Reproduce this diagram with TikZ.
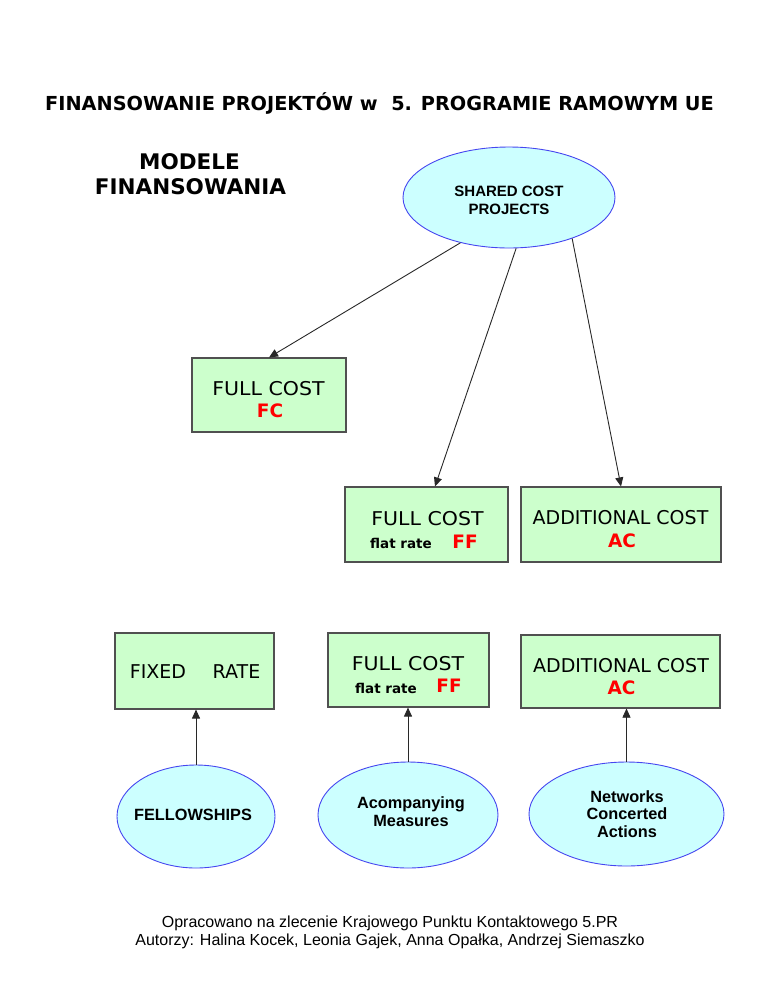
\documentclass[tikz,border=0pt]{standalone}
\usepackage{fontspec}
\setmainfont{DejaVu Sans}
\newfontfamily\arialf{Liberation Sans}
\usetikzlibrary{shapes.geometric,calc,arrows.meta}
\definecolor{ellfill}{RGB}{204,255,255}
\definecolor{elldraw}{RGB}{70,70,240}
\definecolor{boxfill}{RGB}{204,255,204}
\definecolor{boxdraw}{RGB}{80,80,80}
\definecolor{redtxt}{RGB}{255,0,0}
\definecolor{conncol}{RGB}{40,40,40}
\tikzset{
  ell/.style={ellipse,draw=elldraw,fill=ellfill,line width=0.9pt,inner sep=0pt},
  cbox/.style={rectangle,draw=boxdraw,fill=boxfill,line width=1.1pt,inner sep=0pt},
  txt/.style={anchor=base,inner sep=0pt},
  boxtxt/.style={txt,font=\fontsize{19}{22}\selectfont},
  redcode/.style={txt,text=redtxt,font=\fontsize{18.5}{22}\selectfont\bfseries},
  flat/.style={txt,font=\fontsize{13.5}{16}\selectfont\bfseries},
  elltxt/.style={txt,font=\arialf\fontsize{15}{18}\selectfont\bfseries},
  elltxtb/.style={txt,font=\arialf\fontsize{16.3}{18}\selectfont\bfseries},
  foottxt/.style={txt,font=\arialf\fontsize{16}{18}\selectfont},
  conn/.style={draw=conncol,line width=0.9pt,-{Triangle[length=9pt,width=8pt]}}
}
\newcommand{\wide}[1]{\scalebox{1.08}[1]{#1}}
\begin{document}
\begin{tikzpicture}[x=1pt,y=-1pt]
\fill[white] (0,0) rectangle (768,994);
\useasboundingbox (0,0) rectangle (768,994);

% title
\node[txt,font=\fontsize{19.3}{24}\selectfont\bfseries] (title) at (379.5,110) {FINANSOWANIE PROJEKTÓW w~~5. PROGRAMIE RAMOWYM UE};
\node[txt,font=\fontsize{21.5}{25}\selectfont\bfseries] (mod1) at (189.5,169) {MODELE};
\node[txt,font=\fontsize{21.5}{25}\selectfont\bfseries] (mod2) at (190.5,194) {FINANSOWANIA};

% top ellipse
\node[ell,minimum width=212pt,minimum height=101pt] (top) at (509,197.5) {};
\node[elltxt] (topt1) at (509,196) {SHARED COST};
\node[elltxt] (topt2) at (509,214) {PROJECTS};

% boxes
\node[cbox,minimum width=154pt,minimum height=74pt] (fc) at (269,395) {};
\node[boxtxt] (fct1) at (268.5,395.5) {\wide{FULL COST}};
\node[redcode] (fct2) at (270,417.5) {FC};

\node[cbox,minimum width=163pt,minimum height=75pt] (ff1) at (426.5,524.5) {};
\node[boxtxt] (ff1t1) at (427.5,525.5) {\wide{FULL COST}};
\node[flat] (ff1t2) at (401,548) {flat rate};
\node[redcode] (ff1t3) at (465,548.5) {FF};

\node[cbox,minimum width=200pt,minimum height=75pt] (ac1) at (621,524.5) {};
\node[boxtxt] (ac1t1) at (620.5,524.5) {ADDITIONAL COST};
\node[redcode] (ac1t2) at (622,547.5) {AC};

\node[cbox,minimum width=159pt,minimum height=76pt] (fix) at (194.5,671) {};
\node[boxtxt] (fixt1) at (158,678.5) {FIXED};
\node[boxtxt] (fixt2) at (236.5,678.5) {RATE};

\node[cbox,minimum width=161pt,minimum height=74pt] (ff2) at (408.5,670) {};
\node[boxtxt] (ff2t1) at (408,670.5) {\wide{FULL COST}};
\node[flat] (ff2t2) at (386,693) {flat rate};
\node[redcode] (ff2t3) at (449,692.5) {FF};

\node[cbox,minimum width=199pt,minimum height=73pt] (ac2) at (620.5,671.5) {};
\node[boxtxt] (ac2t1) at (621,672.5) {ADDITIONAL COST};
\node[redcode] (ac2t2) at (621.5,694.5) {AC};

% bottom ellipses
\node[ell,minimum width=158pt,minimum height=103pt] (fel) at (196,816.5) {};
\node[elltxtb] (felt) at (193,820.5) {FELLOWSHIPS};

\node[ell,minimum width=180pt,minimum height=106pt] (acm) at (408,815) {};
\node[elltxtb] (acmt1) at (411,808) {Acompanying};
\node[elltxtb] (acmt2) at (411,826) {Measures};

\node[ell,minimum width=195pt,minimum height=104pt] (net) at (626.5,814) {};
\node[elltxtb] (nett1) at (627,802) {Networks};
\node[elltxtb] (nett2) at (627,819.5) {Concerted};
\node[elltxtb] (nett3) at (627,837) {Actions};

% connectors
\draw[conn] (top.-137) -- (fc.north);
\draw[conn] (top.-82) -- ($(ff1.north)+(8.5,0)$);
\draw[conn] (top.-33) -- (ac1.north);
\draw[conn] (fel.north) -- (fel.north |- fix.south);
\draw[conn] (acm.north) -- (acm.north |- ff2.south);
\draw[conn,line width=0.6pt] (net.north) -- (net.north |- ac2.south);

% footer
\node[foottxt] (foot1) at (390,927) {Opracowano na zlecenie Krajowego Punktu Kontaktowego 5.PR};
\node[foottxt] (foot2) at (390,945) {Autorzy: Halina Kocek, Leonia Gajek, Anna Opałka, Andrzej Siemaszko};
\end{tikzpicture}
\end{document}
